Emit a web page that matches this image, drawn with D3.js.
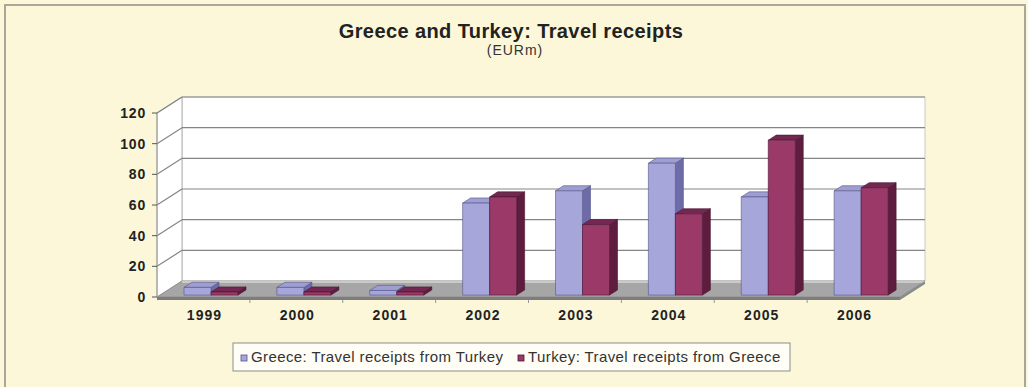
<!DOCTYPE html>
<html>
<head>
<meta charset="utf-8">
<script src="https://cdn.jsdelivr.net/npm/d3@7"></script>
<style>
  html, body { margin: 0; padding: 0; background: #fcf7d9; }
  svg { display: block; }
</style>
</head>
<body>
<script>
// ---- data ----
const years = ["1999", "2000", "2001", "2002", "2003", "2004", "2005", "2006"];
const seriesNames = ["Greece: Travel receipts from Turkey", "Turkey: Travel receipts from Greece"];
const greeceFromTurkey = [5, 5, 3, 60, 68, 86, 64, 68];
const turkeyFromGreece = [2, 2, 2, 64, 46, 53, 101, 70];
const yTicks = [0, 20, 40, 60, 80, 100, 120];
const titleText = "Greece and Turkey: Travel receipts";
const subtitleText = "(EURm)";

// ---- layout ----
const W = 1028, H = 387;
const FONT = "Arial, 'Liberation Sans', sans-serif";
const svg = d3.select("body").append("svg").attr("width", W).attr("height", H);

// background + frame
svg.append("rect").attr("x", 0).attr("y", 0).attr("width", W).attr("height", H).attr("fill", "#fcf7d9");
svg.append("path").attr("d", `M5,${H + 5} V5 H1025 V${H + 5}`)
  .attr("fill", "none").attr("stroke", "#a9a898").attr("stroke-width", 2);

// title
svg.append("text").attr("x", 511).attr("y", 38).attr("text-anchor", "middle")
  .attr("font-family", FONT).attr("font-weight", "bold").attr("letter-spacing", 0.4)
  .attr("font-size", 20).attr("fill", "#222").text(titleText);
svg.append("text").attr("x", 515).attr("y", 55).attr("text-anchor", "middle")
  .attr("font-family", FONT).attr("letter-spacing", 1)
  .attr("font-size", 14).attr("fill", "#333").text(subtitleText);

// scales (front plane)
const x = d3.scaleBand().domain(years).range([157, 900]);
const y = d3.scaleLinear().domain([0, 120]).range([297, 113]);
const DX = 25, DY = -16;       // depth projection vector
const sx = d3.scaleBand().domain([0, 1]).range([24, 78]);
const D0 = 0.12, D1 = 0.44;    // bar depth (front/back fractions)

const xl = x.range()[0], xr = x.range()[1];
const pt = (px, v, d) => [px + d * DX, y(v) + d * DY];
const poly = pts => "M" + pts.map(p => p.join(",")).join("L") + "Z";

const g = svg.append("g");

// back wall
g.append("path").attr("d", poly([pt(xl, 0, 1), pt(xl, 120, 1), pt(xr, 120, 1), pt(xr, 0, 1)]))
  .attr("fill", "#ffffff").attr("stroke", "#c9c9c0").attr("stroke-width", 1);
// side wall
g.append("path").attr("d", poly([pt(xl, 0, 0), pt(xl, 120, 0), pt(xl, 120, 1), pt(xl, 0, 1)]))
  .attr("fill", "#ffffff").attr("stroke", "#b0b0b0").attr("stroke-width", 1);

// gridlines on back wall and side wall
yTicks.filter(v => v > 0).forEach(v => {
  const a = pt(xl, v, 1), b = pt(xr, v, 1), c = pt(xl, v, 0);
  g.append("line").attr("x1", a[0]).attr("y1", a[1]).attr("x2", b[0]).attr("y2", b[1])
    .attr("stroke", "#858585").attr("stroke-width", 1.2);
  g.append("line").attr("x1", c[0]).attr("y1", c[1]).attr("x2", a[0]).attr("y2", a[1])
    .attr("stroke", "#858585").attr("stroke-width", 1.2);
});

// floor (top surface + thin edges)
g.append("path").attr("d", poly([pt(xl, 0, 0), pt(xl, 0, 1), pt(xr, 0, 1), pt(xr, 0, 0)]))
  .attr("fill", "#a6a6a6").attr("stroke", "#8c8c8c").attr("stroke-width", 0.8);
g.append("path").attr("d", poly([pt(xl, 0, 1), pt(xr, 0, 1), [pt(xr, 0, 1)[0], pt(xr, 0, 1)[1] + 2], [pt(xl, 0, 1)[0], pt(xl, 0, 1)[1] + 2]]))
  .attr("fill", "#cacaca");
const fr = pt(xr, 0, 0), br = pt(xr, 0, 1);
g.append("path").attr("d", poly([[xl, y(0)], [xr, y(0)], [xr, y(0) + 3], [xl, y(0) + 3]]))
  .attr("fill", "#7d7d7d");
g.append("path").attr("d", poly([fr, br, [br[0], br[1] + 3], [fr[0], fr[1] + 3]]))
  .attr("fill", "#8a8a8a");

// front axis line and ticks
g.append("line").attr("x1", xl).attr("y1", y(0)).attr("x2", xl).attr("y2", y(120))
  .attr("stroke", "#9a9a9a").attr("stroke-width", 1);
yTicks.forEach(v => {
  g.append("line").attr("x1", xl - 5).attr("y1", y(v)).attr("x2", xl).attr("y2", y(v))
    .attr("stroke", "#555").attr("stroke-width", 1);
  g.append("text").attr("x", 146).attr("y", y(v) + 5).attr("text-anchor", "end")
    .attr("font-family", FONT).attr("font-weight", "bold").attr("letter-spacing", 0.8)
    .attr("font-size", 14).attr("fill", "#222").text(v);
});

// category ticks + labels
years.forEach((yr, i) => {
  if (i > 0) {
    const px = x(yr);
    g.append("line").attr("x1", px).attr("y1", y(0) + 3).attr("x2", px).attr("y2", y(0) + 6)
      .attr("stroke", "#999").attr("stroke-width", 1);
  }
  g.append("text").attr("x", x(yr) + x.bandwidth() / 2 + 1).attr("y", 320).attr("text-anchor", "middle")
    .attr("font-family", FONT).attr("font-weight", "bold").attr("letter-spacing", 1)
    .attr("font-size", 14).attr("fill", "#222").text(yr);
});

// bars
const palettes = [
  { front: "#a7a6da", top: "#9f9ed0", side: "#6d6ca8", stroke: "#55548a" },
  { front: "#9b3a69", top: "#722850", side: "#5e1d3e", stroke: "#4a1530" }
];
const seriesData = [greeceFromTurkey, turkeyFromGreece];

years.forEach((yr, i) => {
  [0, 1].forEach(s => {
    const v = seriesData[s][i];
    const pal = palettes[s];
    const x0 = x(yr) + sx(s), x1 = x0 + sx.bandwidth();
    const bar = g.append("g");
    bar.append("path").attr("d", poly([pt(x1, 0, D0), pt(x1, v, D0), pt(x1, v, D1), pt(x1, 0, D1)]))
      .attr("fill", pal.side).attr("stroke", pal.stroke).attr("stroke-width", 0.6);
    bar.append("path").attr("d", poly([pt(x0, v, D0), pt(x0, v, D1), pt(x1, v, D1), pt(x1, v, D0)]))
      .attr("fill", pal.top).attr("stroke", pal.stroke).attr("stroke-width", 0.6);
    bar.append("path").attr("d", poly([pt(x0, 0, D0), pt(x0, v, D0), pt(x1, v, D0), pt(x1, 0, D0)]))
      .attr("fill", pal.front).attr("stroke", pal.stroke).attr("stroke-width", 0.6);
  });
});

// legend
const lg = svg.append("g");
lg.append("rect").attr("x", 233).attr("y", 343).attr("width", 557).attr("height", 28)
  .attr("fill", "#fffef6").attr("stroke", "#8d8d85").attr("stroke-width", 1);
const legX = [241, 518];
seriesNames.forEach((name, s) => {
  lg.append("rect").attr("x", legX[s]).attr("y", 355).attr("width", 6).attr("height", 6)
    .attr("fill", palettes[s].front).attr("stroke", palettes[s].stroke).attr("stroke-width", 0.8);
  lg.append("text").attr("x", legX[s] + 10).attr("y", 362)
    .attr("font-family", FONT).attr("letter-spacing", 0.4)
    .attr("font-size", 15).attr("fill", "#333").text(name);
});
</script>
</body>
</html>
